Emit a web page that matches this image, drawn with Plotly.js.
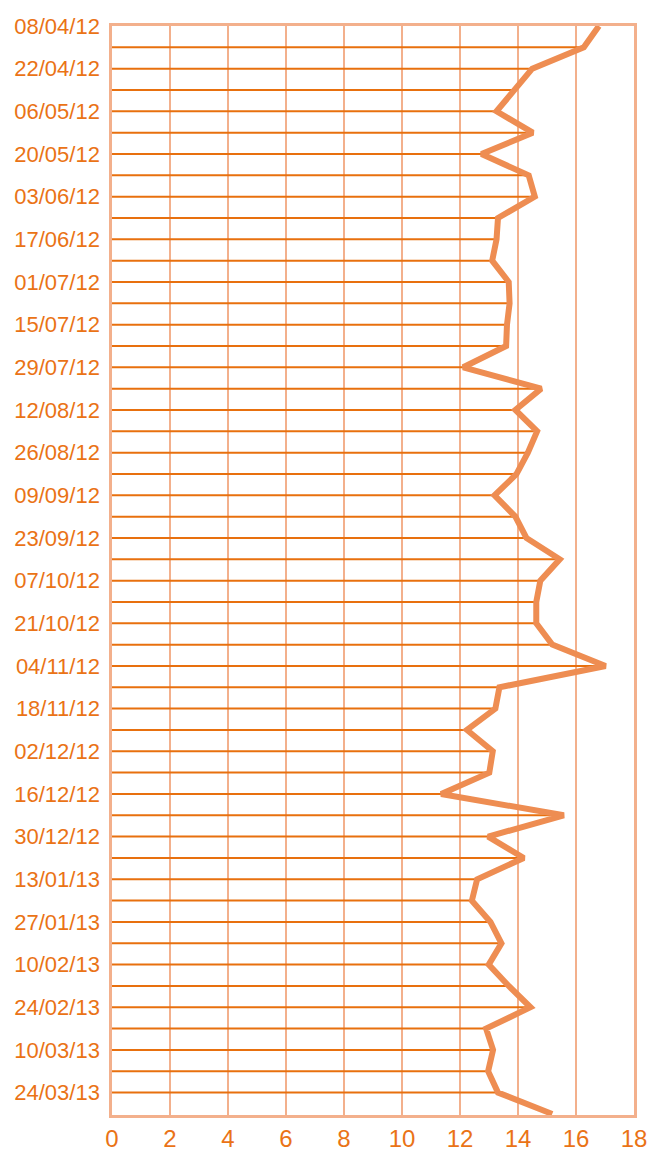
<!DOCTYPE html>
<html>
<head>
<meta charset="utf-8">
<script src="https://cdn.plot.ly/plotly-3.0.1.min.js"></script>
<style>
  html, body { margin: 0; padding: 0; background: #ffffff; }
  #chart { width: 651px; height: 1151px; }
</style>
</head>
<body>
<div id="chart"></div>
<script>
// Weekly dates (categories)
const dates = [
  '08/04/12','15/04/12','22/04/12','29/04/12','06/05/12','13/05/12','20/05/12','27/05/12',
  '03/06/12','10/06/12','17/06/12','24/06/12','01/07/12','08/07/12','15/07/12','22/07/12',
  '29/07/12','05/08/12','12/08/12','19/08/12','26/08/12','02/09/12','09/09/12','16/09/12',
  '23/09/12','30/09/12','07/10/12','14/10/12','21/10/12','28/10/12','04/11/12','11/11/12',
  '18/11/12','25/11/12','02/12/12','09/12/12','16/12/12','23/12/12','30/12/12','06/01/13',
  '13/01/13','20/01/13','27/01/13','03/02/13','10/02/13','17/02/13','24/02/13','03/03/13',
  '10/03/13','17/03/13','24/03/13','31/03/13'
];

// Series values
const values = [
  16.79, 16.27, 14.49, 13.87, 13.26, 14.51, 12.74, 14.37,
  14.58, 13.31, 13.26, 13.11, 13.68, 13.71, 13.62, 13.59,
  12.11, 14.80, 13.91, 14.66, 14.34, 13.95, 13.19, 13.91,
  14.29, 15.44, 14.77, 14.63, 14.63, 15.18, 17.02, 13.36,
  13.22, 12.24, 13.13, 13.01, 11.35, 15.58, 12.97, 14.20,
  12.59, 12.41, 13.05, 13.43, 12.99, 13.68, 14.43, 12.90,
  13.14, 12.97, 13.31, 15.18
];

// Y tick labels (every second week)
const yTickLabels = [
  '08/04/12','22/04/12','06/05/12','20/05/12','03/06/12','17/06/12','01/07/12','15/07/12',
  '29/07/12','12/08/12','26/08/12','09/09/12','23/09/12','07/10/12','21/10/12','04/11/12',
  '18/11/12','02/12/12','16/12/12','30/12/12','13/01/13','27/01/13','10/02/13','24/02/13',
  '10/03/13','24/03/13'
];

// X tick values
const xTicks = [0, 2, 4, 6, 8, 10, 12, 14, 16, 18];

// Horizontal drop lines from 0 to each value (interior weeks, as in the reference)
const dropX = [], dropY = [];
for (let i = 1; i < dates.length - 1; i++) {
  dropX.push(0, values[i], null);
  dropY.push(dates[i], dates[i], null);
}

const textColor = '#EA7316';
const lightColor = '#F3B08C';

const traces = [
  {
    type: 'scatter', mode: 'lines',
    x: dropX, y: dropY,
    line: { color: '#E8700E', width: 2 },
    hoverinfo: 'skip', showlegend: false
  },
  {
    type: 'scatter', mode: 'lines',
    x: values, y: dates,
    line: { color: '#EE8D52', width: 6 },
    showlegend: false
  }
];

const layout = {
  width: 651, height: 1151,
  margin: { l: 112, r: 17, t: 26, b: 36 },
  paper_bgcolor: '#ffffff', plot_bgcolor: '#ffffff',
  font: { family: 'Liberation Sans, Arial, sans-serif', color: textColor },
  showlegend: false,
  xaxis: {
    range: [0, 18],
    tickvals: xTicks,
    ticktext: xTicks.map(String),
    tickfont: { size: 24, color: textColor },
    showgrid: true, gridcolor: lightColor, gridwidth: 2,
    zeroline: false,
    showline: true, linecolor: lightColor, linewidth: 2.7, mirror: true,
    ticks: '', ticklabelstandoff: 0,
    fixedrange: true
  },
  yaxis: {
    type: 'category',
    categoryorder: 'array', categoryarray: dates,
    range: [51.05, 0],
    tickvals: yTickLabels,
    ticktext: yTickLabels,
    tickfont: { size: 22, color: textColor },
    showgrid: false, zeroline: false,
    showline: true, linecolor: lightColor, linewidth: 2.7, mirror: true,
    ticks: '', ticklabelstandoff: 5,
    fixedrange: true
  }
};

Plotly.newPlot('chart', traces, layout, { displayModeBar: false, staticPlot: true });
</script>
</body>
</html>
